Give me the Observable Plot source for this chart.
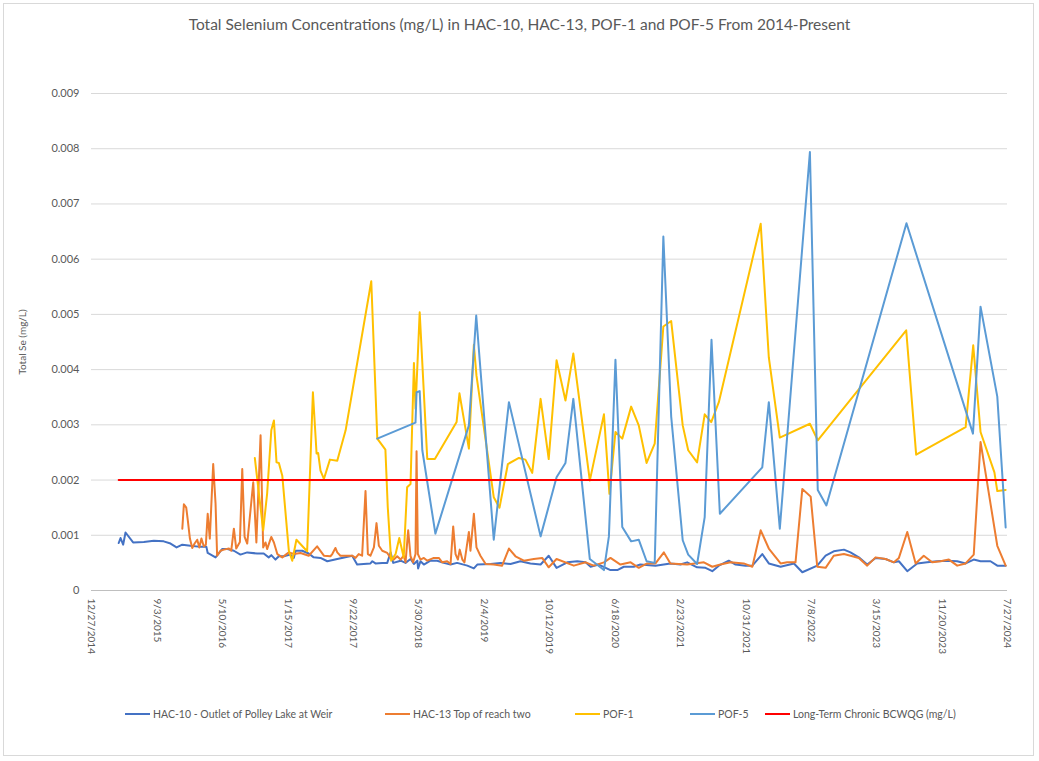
<!DOCTYPE html>
<html>
<head>
<meta charset="utf-8">
<script src="https://cdn.jsdelivr.net/npm/d3@7"></script>
<script src="https://cdn.jsdelivr.net/npm/@observablehq/plot@0.6"></script>
<style>
  html, body { margin: 0; padding: 0; background: #fff; }
  #chart { position: relative; width: 1039px; height: 761px; font-family: Lato, "Open Sans", sans-serif; color: #595959; overflow: hidden; }
  #frame { position: absolute; left: 3px; top: 3px; width: 1031px; height: 753px; border: 1px solid #d9d9d9; box-sizing: border-box; }
  #title { position: absolute; top: 15px; left: 0; width: 1039px; text-align: center; font-size: 15.5px; color: #595959; }
  #plot { position: absolute; left: 0; top: 0; }
  #legend { position: absolute; top: 708px; left: 0; width: 1039px; height: 20px; font-size: 10.5px; }
  .item { position: absolute; top: 0; display: flex; align-items: center; white-space: nowrap; }
  .sw { width: 25px; height: 2.5px; margin-right: 3px; }
  #plot svg g[aria-label="y-axis tick label"] text { font-size: 11px; }
</style>
</head>
<body>
<div id="chart">
  <div id="frame"></div>
  <div id="title"></div>
  <div id="plot"></div>
  <div id="legend"></div>
</div>
<script>
const chartTitle = "Total Selenium Concentrations (mg/L) in HAC-10, HAC-13, POF-1 and POF-5 From 2014-Present";
const yAxisTitle = "Total Se (mg/L)";
const seriesNames = ["HAC-10 - Outlet of Polley Lake at Weir", "HAC-13 Top of reach two", "POF-1", "POF-5", "Long-Term Chronic BCWQG (mg/L)"];
const seriesColors = ["#4472C4", "#ED7D31", "#FFC000", "#5B9BD5", "#FF0000"];
const xTickLabels = ["12/27/2014","9/3/2015","5/10/2016","1/15/2017","9/22/2017","5/30/2018","2/4/2019","10/12/2019","6/18/2020","2/23/2021","10/31/2021","7/8/2022","3/15/2023","11/20/2023","7/27/2024"];
const yTicks = [0,0.001,0.002,0.003,0.004,0.005,0.006,0.007,0.008,0.009];

const hac10Dates = ["2015-04-10","2015-04-17","2015-04-27","2015-05-06","2015-06-04","2015-07-15","2015-08-22","2015-09-29","2015-10-25","2015-11-17","2015-12-09","2016-01-09","2016-02-17","2016-03-10","2016-03-15","2016-04-14","2016-05-09","2016-05-29","2016-06-23","2016-07-18","2016-08-13","2016-09-20","2016-10-15","2016-11-03","2016-11-13","2016-11-29","2016-12-12","2016-12-31","2017-01-25","2017-02-07","2017-02-14","2017-03-11","2017-04-05","2017-04-24","2017-05-20","2017-06-15","2017-07-23","2017-09-18","2017-10-07","2017-11-01","2017-11-27","2017-12-04","2017-12-16","2018-01-11","2018-01-30","2018-02-12","2018-02-22","2018-03-22","2018-04-10","2018-04-29","2018-05-12","2018-05-25","2018-05-28","2018-06-06","2018-06-19","2018-07-14","2018-08-09","2018-09-03","2018-09-29","2018-10-24","2018-12-02","2018-12-27","2019-01-09","2019-03-01","2019-04-08","2019-05-16","2019-06-23","2019-07-31","2019-09-08","2019-10-09","2019-11-08","2019-12-19","2020-01-26","2020-02-27","2020-03-17","2020-04-17","2020-06-01","2020-06-27","2020-07-22","2020-08-29","2020-09-23","2020-11-20","2021-01-16","2021-02-23","2021-03-21","2021-04-28","2021-05-30","2021-06-25","2021-07-20","2021-08-27","2021-09-22","2021-10-30","2021-11-25","2022-01-02","2022-01-27","2022-03-13","2022-05-03","2022-06-04","2022-07-31","2022-09-01","2022-10-02","2022-11-10","2022-12-05","2023-01-06","2023-02-07","2023-03-11","2023-04-18","2023-05-20","2023-06-08","2023-07-10","2023-08-17","2023-09-24","2023-11-01","2023-12-10","2024-01-17","2024-02-18","2024-03-20","2024-04-15","2024-05-23","2024-06-18","2024-07-20"];
const hac10Values = [0.00086,0.00095,0.00083,0.00105,0.00087,0.00088,0.00090,0.00089,0.00085,0.00078,0.00083,0.00081,0.00079,0.00079,0.00068,0.00060,0.00075,0.00075,0.00072,0.00065,0.00069,0.00067,0.00067,0.00060,0.00064,0.00056,0.00062,0.00062,0.00065,0.00059,0.00072,0.00072,0.00067,0.00060,0.00059,0.00053,0.00057,0.00063,0.00047,0.00048,0.00049,0.00053,0.00049,0.00050,0.00050,0.00069,0.00050,0.00054,0.00050,0.00057,0.00048,0.00054,0.00040,0.00053,0.00047,0.00054,0.00054,0.00050,0.00047,0.00050,0.00045,0.00040,0.00047,0.00048,0.00050,0.00048,0.00053,0.00049,0.00047,0.00063,0.00041,0.00051,0.00053,0.00051,0.00043,0.00047,0.00037,0.00037,0.00043,0.00043,0.00047,0.00045,0.00049,0.00047,0.00051,0.00042,0.00041,0.00035,0.00045,0.00054,0.00047,0.00045,0.00045,0.00066,0.00049,0.00043,0.00049,0.00033,0.00045,0.00063,0.00071,0.00074,0.00069,0.00060,0.00047,0.00059,0.00057,0.00051,0.00053,0.00035,0.00049,0.00051,0.00053,0.00054,0.00053,0.00049,0.00056,0.00053,0.00053,0.00045,0.00045];

const hac13Dates = ["2015-12-09","2015-12-15","2015-12-24","2015-12-30","2016-01-07","2016-01-16","2016-01-25","2016-02-04","2016-02-12","2016-02-20","2016-02-29","2016-03-08","2016-03-15","2016-03-23","2016-04-05","2016-04-14","2016-04-20","2016-05-03","2016-05-16","2016-06-04","2016-06-13","2016-06-23","2016-07-02","2016-07-16","2016-07-25","2016-08-03","2016-08-13","2016-09-05","2016-09-17","2016-10-03","2016-10-13","2016-10-22","2016-10-28","2016-11-13","2016-11-23","2016-12-06","2016-12-25","2017-01-19","2017-02-07","2017-03-05","2017-04-05","2017-05-07","2017-06-02","2017-06-27","2017-07-04","2017-07-16","2017-07-23","2017-08-04","2017-09-18","2017-10-01","2017-10-13","2017-10-26","2017-11-08","2017-11-17","2017-11-27","2017-12-10","2017-12-20","2017-12-29","2018-01-11","2018-01-30","2018-02-12","2018-02-24","2018-03-09","2018-03-22","2018-04-03","2018-04-10","2018-04-20","2018-04-29","2018-05-09","2018-05-18","2018-05-22","2018-05-27","2018-06-06","2018-06-19","2018-07-02","2018-07-27","2018-08-15","2018-08-28","2018-09-16","2018-09-29","2018-10-09","2018-10-18","2018-10-27","2018-11-03","2018-11-13","2018-11-21","2018-12-08","2018-12-14","2018-12-27","2019-01-06","2019-01-21","2019-02-10","2019-03-13","2019-04-14","2019-05-10","2019-06-04","2019-07-06","2019-08-13","2019-09-14","2019-10-09","2019-11-08","2020-01-13","2020-02-27","2020-03-29","2020-05-07","2020-06-01","2020-07-09","2020-08-17","2020-09-17","2020-10-19","2020-11-20","2020-12-22","2021-01-16","2021-03-21","2021-05-24","2021-06-25","2021-07-26","2021-09-03","2021-10-23","2021-11-25","2021-12-27","2022-01-27","2022-03-13","2022-04-07","2022-05-09","2022-06-04","2022-07-06","2022-07-31","2022-09-01","2022-10-02","2022-11-10","2022-12-05","2023-01-06","2023-02-07","2023-03-11","2023-04-18","2023-05-20","2023-06-08","2023-07-10","2023-08-11","2023-09-11","2023-10-13","2023-11-14","2023-12-16","2024-01-17","2024-02-18","2024-03-20","2024-04-15","2024-06-18","2024-07-20"];
const hac13Values = [0.00112,0.00156,0.00150,0.00127,0.00094,0.00077,0.00085,0.00092,0.00078,0.00094,0.00080,0.00083,0.00139,0.00094,0.00229,0.00157,0.00063,0.00072,0.00074,0.00076,0.00072,0.00112,0.00076,0.00088,0.00220,0.00097,0.00085,0.00196,0.00087,0.00281,0.00078,0.00087,0.00075,0.00097,0.00087,0.00066,0.00060,0.00069,0.00066,0.00068,0.00063,0.00080,0.00063,0.00062,0.00066,0.00077,0.00069,0.00063,0.00063,0.00059,0.00066,0.00063,0.00180,0.00066,0.00063,0.00078,0.00122,0.00081,0.00072,0.00068,0.00059,0.00056,0.00062,0.00056,0.00063,0.00051,0.00109,0.00062,0.00051,0.00066,0.00252,0.00066,0.00056,0.00059,0.00054,0.00059,0.00059,0.00051,0.00053,0.00048,0.00116,0.00066,0.00056,0.00074,0.00056,0.00051,0.00106,0.00072,0.00139,0.00078,0.00063,0.00048,0.00047,0.00045,0.00076,0.00062,0.00054,0.00057,0.00059,0.00042,0.00057,0.00045,0.00051,0.00045,0.00051,0.00059,0.00047,0.00051,0.00041,0.00049,0.00049,0.00069,0.00049,0.00047,0.00051,0.00043,0.00047,0.00051,0.00049,0.00043,0.00109,0.00076,0.00049,0.00051,0.00051,0.00184,0.00170,0.00043,0.00041,0.00063,0.00066,0.00063,0.00059,0.00045,0.00060,0.00057,0.00051,0.00059,0.00106,0.00049,0.00063,0.00051,0.00053,0.00056,0.00045,0.00049,0.00065,0.00269,0.00081,0.00045];

const pof1Dates = ["2016-09-11","2016-10-13","2016-10-28","2016-11-13","2016-11-23","2016-12-03","2016-12-12","2016-12-25","2017-01-19","2017-02-01","2017-02-17","2017-03-30","2017-04-21","2017-05-05","2017-05-11","2017-05-20","2017-06-02","2017-06-25","2017-07-23","2017-08-24","2017-11-30","2017-12-23","2018-01-23","2018-02-01","2018-02-14","2018-03-03","2018-03-17","2018-04-03","2018-04-16","2018-04-29","2018-05-12","2018-05-18","2018-06-03","2018-07-02","2018-07-31","2018-10-22","2018-11-02","2018-12-08","2018-12-27","2019-01-06","2019-03-13","2019-04-04","2019-05-06","2019-06-17","2019-07-12","2019-08-07","2019-09-08","2019-10-09","2019-11-08","2019-12-12","2020-01-11","2020-03-14","2020-05-07","2020-05-28","2020-06-20","2020-07-16","2020-08-19","2020-09-17","2020-10-17","2020-11-17","2020-12-20","2021-01-19","2021-03-04","2021-03-25","2021-04-28","2021-05-27","2021-06-21","2021-07-20","2021-12-27","2022-01-27","2022-03-10","2022-07-03","2022-08-02","2023-07-06","2023-08-13","2024-02-18","2024-03-18","2024-04-15","2024-06-07","2024-06-18","2024-07-20"];
const pof1Values = [0.00240,0.00109,0.00175,0.00290,0.00308,0.00232,0.00231,0.00208,0.00072,0.00054,0.00092,0.00071,0.00359,0.00248,0.00249,0.00217,0.00202,0.00237,0.00235,0.00290,0.00560,0.00275,0.00255,0.00151,0.00054,0.00066,0.00095,0.00060,0.00187,0.00193,0.00412,0.00329,0.00504,0.00238,0.00238,0.00305,0.00357,0.00257,0.00445,0.00389,0.00169,0.00150,0.00229,0.00240,0.00237,0.00213,0.00347,0.00238,0.00417,0.00344,0.00429,0.00199,0.00319,0.00175,0.00287,0.00275,0.00333,0.00299,0.00231,0.00266,0.00478,0.00488,0.00299,0.00254,0.00232,0.00319,0.00305,0.00341,0.00664,0.00422,0.00277,0.00302,0.00272,0.00471,0.00246,0.00296,0.00444,0.00287,0.00214,0.00180,0.00182];

const pof5Dates = ["2017-12-23","2018-05-18","2018-05-22","2018-06-03","2018-06-13","2018-08-02","2018-12-08","2019-01-05","2019-03-13","2019-05-10","2019-09-08","2019-11-08","2019-12-12","2020-01-11","2020-03-14","2020-05-07","2020-05-26","2020-06-20","2020-07-16","2020-08-19","2020-09-17","2020-10-17","2020-11-17","2020-12-20","2021-01-19","2021-03-04","2021-03-25","2021-04-28","2021-05-27","2021-06-22","2021-07-24","2022-01-02","2022-01-27","2022-03-10","2022-07-03","2022-08-02","2022-09-04","2023-07-07","2024-03-17","2024-04-15","2024-06-18","2024-07-20"];
const pof5Values = [0.00275,0.00304,0.00359,0.00361,0.00254,0.00103,0.00299,0.00498,0.00092,0.00341,0.00098,0.00205,0.00231,0.00347,0.00057,0.00037,0.00098,0.00418,0.00115,0.00089,0.00092,0.00053,0.00050,0.00641,0.00315,0.00091,0.00065,0.00048,0.00133,0.00454,0.00139,0.00223,0.00341,0.00112,0.00794,0.00182,0.00154,0.00665,0.00284,0.00514,0.00351,0.00114];

const bcwqgDates = ["2015-04-10","2024-07-20"];
const bcwqgValues = [0.002,0.002];

const parseTick = d3.utcParse("%m/%d/%Y");
const toRows = (dates, values) => dates.map((d, i) => ({date: new Date(d + "T00:00:00Z"), value: values[i]}));
const seriesRows = [toRows(hac10Dates, hac10Values), toRows(hac13Dates, hac13Values), toRows(pof1Dates, pof1Values), toRows(pof5Dates, pof5Values), toRows(bcwqgDates, bcwqgValues)];
const xTicks = xTickLabels.map(parseTick);

document.getElementById("title").textContent = chartTitle;

const plot = Plot.plot({
  width: 1039,
  height: 690,
  marginTop: 93,
  marginBottom: 100,
  marginLeft: 91,
  marginRight: 32,
  style: {fontFamily: "Lato, 'Open Sans', sans-serif", fontSize: "10px", color: "#595959", background: "transparent"},
  x: {type: "utc", domain: [xTicks[0], xTicks[xTicks.length - 1]]},
  y: {domain: [0, 0.009]},
  marks: [
    Plot.gridY(yTicks.slice(1), {stroke: "#d9d9d9", strokeOpacity: 1, strokeWidth: 1}),
    Plot.ruleY([0], {stroke: "#bfbfbf", strokeWidth: 1}),
    Plot.axisY({ticks: yTicks, tickSize: 0, tickPadding: 12, tickFormat: d => d === 0 ? "0" : d.toFixed(3), label: yAxisTitle, labelAnchor: "center", labelArrow: "none", labelOffset: 73, fill: "#595959"}),
    Plot.axisX({ticks: xTicks, tickSize: 0, tickPadding: 8, tickRotate: 90, tickFormat: d3.utcFormat("%-m/%-d/%Y"), label: null, fill: "#595959"}),
    ...seriesRows.map((rows, i) => Plot.line(rows, {x: "date", y: "value", stroke: seriesColors[i], strokeWidth: 2, strokeLinejoin: "round"}))
  ]
});
document.getElementById("plot").appendChild(plot);

const legendX = [125, 385, 575, 690, 765];
const legend = document.getElementById("legend");
seriesNames.forEach((name, i) => {
  const item = document.createElement("div");
  item.className = "item";
  item.style.left = legendX[i] + "px";
  const sw = document.createElement("div");
  sw.className = "sw";
  sw.style.background = seriesColors[i];
  const label = document.createElement("span");
  label.textContent = name;
  item.appendChild(sw);
  item.appendChild(label);
  legend.appendChild(item);
});
</script>
</body>
</html>
